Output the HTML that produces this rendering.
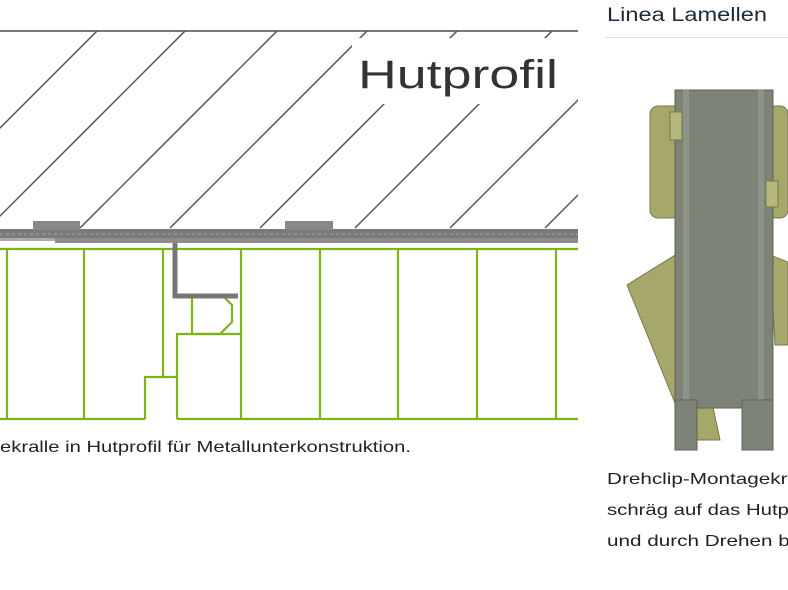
<!DOCTYPE html>
<html><head><meta charset="utf-8"><style>
html,body{margin:0;padding:0;background:#fff;width:788px;height:590px;overflow:hidden}
svg{display:block}
text{font-family:"Liberation Sans",sans-serif}
</style></head><body>
<svg width="788" height="590" viewBox="0 0 788 590" xmlns="http://www.w3.org/2000/svg">
<defs>
<clipPath id="c1"><rect x="0" y="31" width="578" height="198"/></clipPath>
</defs>
<line x1="0" y1="31" x2="578" y2="31" stroke="#777" stroke-width="2"/>
<g clip-path="url(#c1)" stroke="#555" stroke-width="1.5">
<line x1="-12" y1="228" x2="188" y2="28"/>
<line x1="80" y1="228" x2="280" y2="28"/>
<line x1="170" y1="228" x2="370" y2="28"/>
<line x1="260" y1="228" x2="460" y2="28"/>
<line x1="355" y1="228" x2="555" y2="28"/>
<line x1="450" y1="228" x2="650" y2="28"/>
<line x1="545" y1="228" x2="745" y2="28"/>
<line x1="-100" y1="228" x2="100" y2="28"/>
</g>
<rect x="352" y="38" width="210" height="66" fill="#fff"/>
<text x="358" y="88" font-size="40" fill="#333" font-family="DejaVu Sans Condensed, Liberation Sans, sans-serif" textLength="200" lengthAdjust="spacingAndGlyphs" style="font-weight:200">Hutprofil</text>
<rect x="0" y="229" width="578" height="10" fill="#7a7a7a"/>
<rect x="55" y="238" width="523" height="5" fill="#8c8c8c"/>
<rect x="0" y="238" width="55" height="3" fill="#aaa"/>
<rect x="33" y="221" width="47" height="9" fill="#888"/>
<rect x="285" y="221" width="48" height="9" fill="#888"/>
<line x1="0" y1="234" x2="578" y2="234" stroke="#aaa" stroke-width="1" stroke-dasharray="3,3"/>
<g stroke="#7cb518" stroke-width="2.2" fill="none">
<line x1="0" y1="249" x2="578" y2="249"/>
<line x1="0" y1="419" x2="145" y2="419"/>
<line x1="177" y1="419" x2="578" y2="419"/>
<line x1="7" y1="249" x2="7" y2="419"/>
<line x1="84" y1="249" x2="84" y2="419"/>
<line x1="163" y1="249" x2="163" y2="377"/>
<polyline points="145,419 145,377 177,377 177,419"/>
<polyline points="177,377 177,334 240,334"/>
<line x1="241" y1="249" x2="241" y2="419"/>
<polyline points="192,298 192,334 220,334 232,322 232,305 225,298"/>
<line x1="320" y1="249" x2="320" y2="419"/>
<line x1="398" y1="249" x2="398" y2="419"/>
<line x1="477" y1="249" x2="477" y2="419"/>
<line x1="556" y1="249" x2="556" y2="419"/>
</g>
<polyline points="175,243 175,296 238,296" stroke="#777" stroke-width="5" fill="none"/>
<text x="0" y="452" font-size="16" fill="#222" textLength="411" lengthAdjust="spacingAndGlyphs">ekralle in Hutprofil für Metallunterkonstruktion.</text>
<text x="607" y="21" font-size="19" fill="#1d2a3a" textLength="160" lengthAdjust="spacingAndGlyphs">Linea Lamellen</text>
<line x1="605" y1="37.5" x2="788" y2="37.5" stroke="#ddd" stroke-width="1"/>
<rect x="650" y="106" width="138" height="112" rx="8" fill="#a5a86a" stroke="#777a4a"/>
<polygon points="627,285 680,252 720,440 690,440" fill="#a5a86a" stroke="#777a4a"/>
<polygon points="770,255 788,262 788,345 775,345" fill="#a5a86a" stroke="#777a4a"/>
<rect x="675" y="90" width="98" height="318" fill="#7e8378" stroke="#5e625a"/>
<rect x="683" y="90" width="6" height="318" fill="#8e9388"/>
<rect x="758" y="90" width="6" height="318" fill="#8e9388"/>
<rect x="675" y="400" width="22" height="50" fill="#7e8378" stroke="#5e625a"/>
<rect x="742" y="400" width="31" height="50" fill="#7e8378" stroke="#5e625a"/>
<rect x="670" y="112" width="12" height="28" fill="#b5b87a" stroke="#777a4a"/>
<rect x="766" y="181" width="12" height="26" fill="#b5b87a" stroke="#777a4a"/>
<text x="607" y="484" font-size="16" fill="#222" textLength="192" lengthAdjust="spacingAndGlyphs">Drehclip-Montagekra</text>
<text x="607" y="515" font-size="16" fill="#222" textLength="200" lengthAdjust="spacingAndGlyphs">schräg auf das Hutpro</text>
<text x="607" y="546" font-size="16" fill="#222" textLength="200" lengthAdjust="spacingAndGlyphs">und durch Drehen bef</text>
</svg>
</body></html>
